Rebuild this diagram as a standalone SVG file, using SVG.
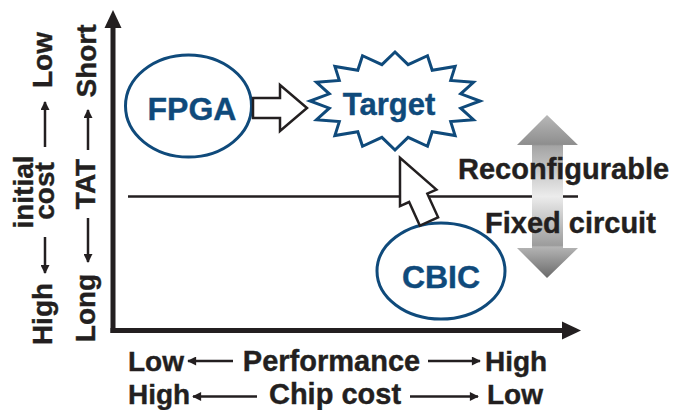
<svg xmlns="http://www.w3.org/2000/svg" width="674" height="410" viewBox="0 0 674 410">
<style>
.t{font-family:"Liberation Sans",Arial,sans-serif;font-weight:bold;fill:#231f20;font-size:28px;stroke:#231f20;stroke-width:0.4}
.b{font-family:"Liberation Sans",Arial,sans-serif;font-weight:bold;fill:#0f4a7b;font-size:32px;text-anchor:middle;stroke:#0f4a7b;stroke-width:0.4}
.ax{stroke:#231f20;stroke-width:2.5;fill:none}
.node{fill:#fff;stroke:#0f4a7b;stroke-width:3}
.blk{fill:#fff;stroke:#231f20;stroke-width:2.5;stroke-linejoin:miter}
</style>
<defs>
<marker id="ah" viewBox="0 0 10 10" refX="9" refY="5" markerWidth="10" markerHeight="9" markerUnits="userSpaceOnUse" orient="auto">
<path d="M0,0 L10,5 L0,10 Z" fill="#231f20"/>
</marker>
<linearGradient id="gg" gradientUnits="userSpaceOnUse" x1="0" y1="115" x2="0" y2="278">
<stop offset="0" stop-color="#b8b8b8"/>
<stop offset="0.18" stop-color="#8e8e8e"/>
<stop offset="0.19" stop-color="#a4a4a4"/>
<stop offset="0.5" stop-color="#ececec"/>
<stop offset="0.8" stop-color="#9c9c9c"/>
<stop offset="0.81" stop-color="#b4b4b4"/>
<stop offset="1" stop-color="#6a6a6a"/>
</linearGradient>
</defs>
<rect width="674" height="410" fill="#fff"/>

<!-- axes -->
<g id="axes">
<path d="M113,333 V26" stroke="#231f20" stroke-width="5" fill="none"/>
<polygon points="113,10 104.5,28 121.5,28" fill="#231f20"/>
<path d="M110.5,330.5 H564" stroke="#231f20" stroke-width="5" fill="none"/>
<polygon points="581,330.5 562,321.5 562,339.5" fill="#231f20"/>
<path d="M128,196.5 H578" stroke="#231f20" stroke-width="2.5"/>
</g>

<!-- gray double arrow -->
<g id="scale-arrow">
<polygon points="547,115 578,145 563,145 563,248 578,248 547,278 517,248 532,248 532,145 517,145" fill="url(#gg)"/>
</g>

<g id="label-reconfigurable"><text class="t" x="458" y="179" style="font-size:29px">Reconfigurable</text></g>
<g id="label-fixed"><text class="t" x="485" y="233" style="font-size:29px">Fixed circuit</text></g>

<!-- y axis labels -->
<g id="y-labels">
<text class="t" text-anchor="middle" transform="translate(52,314) rotate(-90)">High</text>
<text class="t" text-anchor="middle" transform="translate(54,191) rotate(-90)">cost</text>
<text class="t" text-anchor="middle" transform="translate(33,192) rotate(-90)">initial</text>
<text class="t" text-anchor="middle" transform="translate(52,60) rotate(-90)">Low</text>
<text class="t" text-anchor="middle" transform="translate(95,308) rotate(-90)">Long</text>
<text class="t" text-anchor="middle" transform="translate(95,184) rotate(-90)">TAT</text>
<text class="t" text-anchor="middle" transform="translate(96,61) rotate(-90)">Short</text>
<path class="ax" d="M45,147 V102" marker-end="url(#ah)"/>
<path class="ax" d="M45,237 V273" marker-end="url(#ah)"/>
<path class="ax" d="M88,150 V110" marker-end="url(#ah)"/>
<path class="ax" d="M88,218 V262" marker-end="url(#ah)"/>
</g>

<!-- x axis labels -->
<g id="x-labels">
<text class="t" x="128" y="371">Low</text>
<text class="t" x="331.5" y="371" text-anchor="middle" style="font-size:29px">Performance</text>
<text class="t" x="485" y="371">High</text>
<path class="ax" d="M233,361 H188" marker-end="url(#ah)"/>
<path class="ax" d="M428,361 H480" marker-end="url(#ah)"/>
<text class="t" x="128" y="404">High</text>
<text class="t" x="335" y="404" text-anchor="middle" style="font-size:29px">Chip cost</text>
<text class="t" x="487" y="404">Low</text>
<path class="ax" d="M257,396.5 H193" marker-end="url(#ah)"/>
<path class="ax" d="M410,396.5 H478" marker-end="url(#ah)"/>
</g>

<!-- nodes -->
<g id="fpga">
<ellipse class="node" cx="188.5" cy="106" rx="63" ry="51"/>
<text class="b" x="192" y="120">FPGA</text>
</g>
<g id="target">
<polygon class="node" stroke-linejoin="miter" points="480,101 460.7,108.2 473.5,119.75 450.7,121.6 455.1,135.6 432.2,131.8 427.5,146.3 408.1,137.3 395,150 381.9,137.3 362.5,146.3 357.8,131.8 334.9,135.6 339.3,121.6 316.5,119.75 329.3,108.2 310,101 329.3,93.8 316.5,82.25 339.3,80.4 334.9,66.4 357.8,70.2 362.5,55.7 381.9,64.7 395,52 408.1,64.7 427.5,55.7 432.2,70.2 455.1,66.4 450.7,80.4 473.5,82.25 460.7,93.8"/>
<text class="b" x="389" y="115" style="font-size:31px">Target</text>
</g>
<g id="cbic">
<ellipse class="node" cx="441" cy="271" rx="64" ry="48"/>
<text class="b" x="441" y="288">CBIC</text>
</g>

<!-- connectors -->
<g id="connectors">
<polygon class="blk" points="253,98 280,98 280,85 307,108 280,131 280,118 253,118"/>
<polygon class="blk" transform="translate(429,221.5) rotate(-114.5)" points="0,-10 26,-10 26,-20 70,0 26,20 26,10 0,10"/>
</g>
</svg>
